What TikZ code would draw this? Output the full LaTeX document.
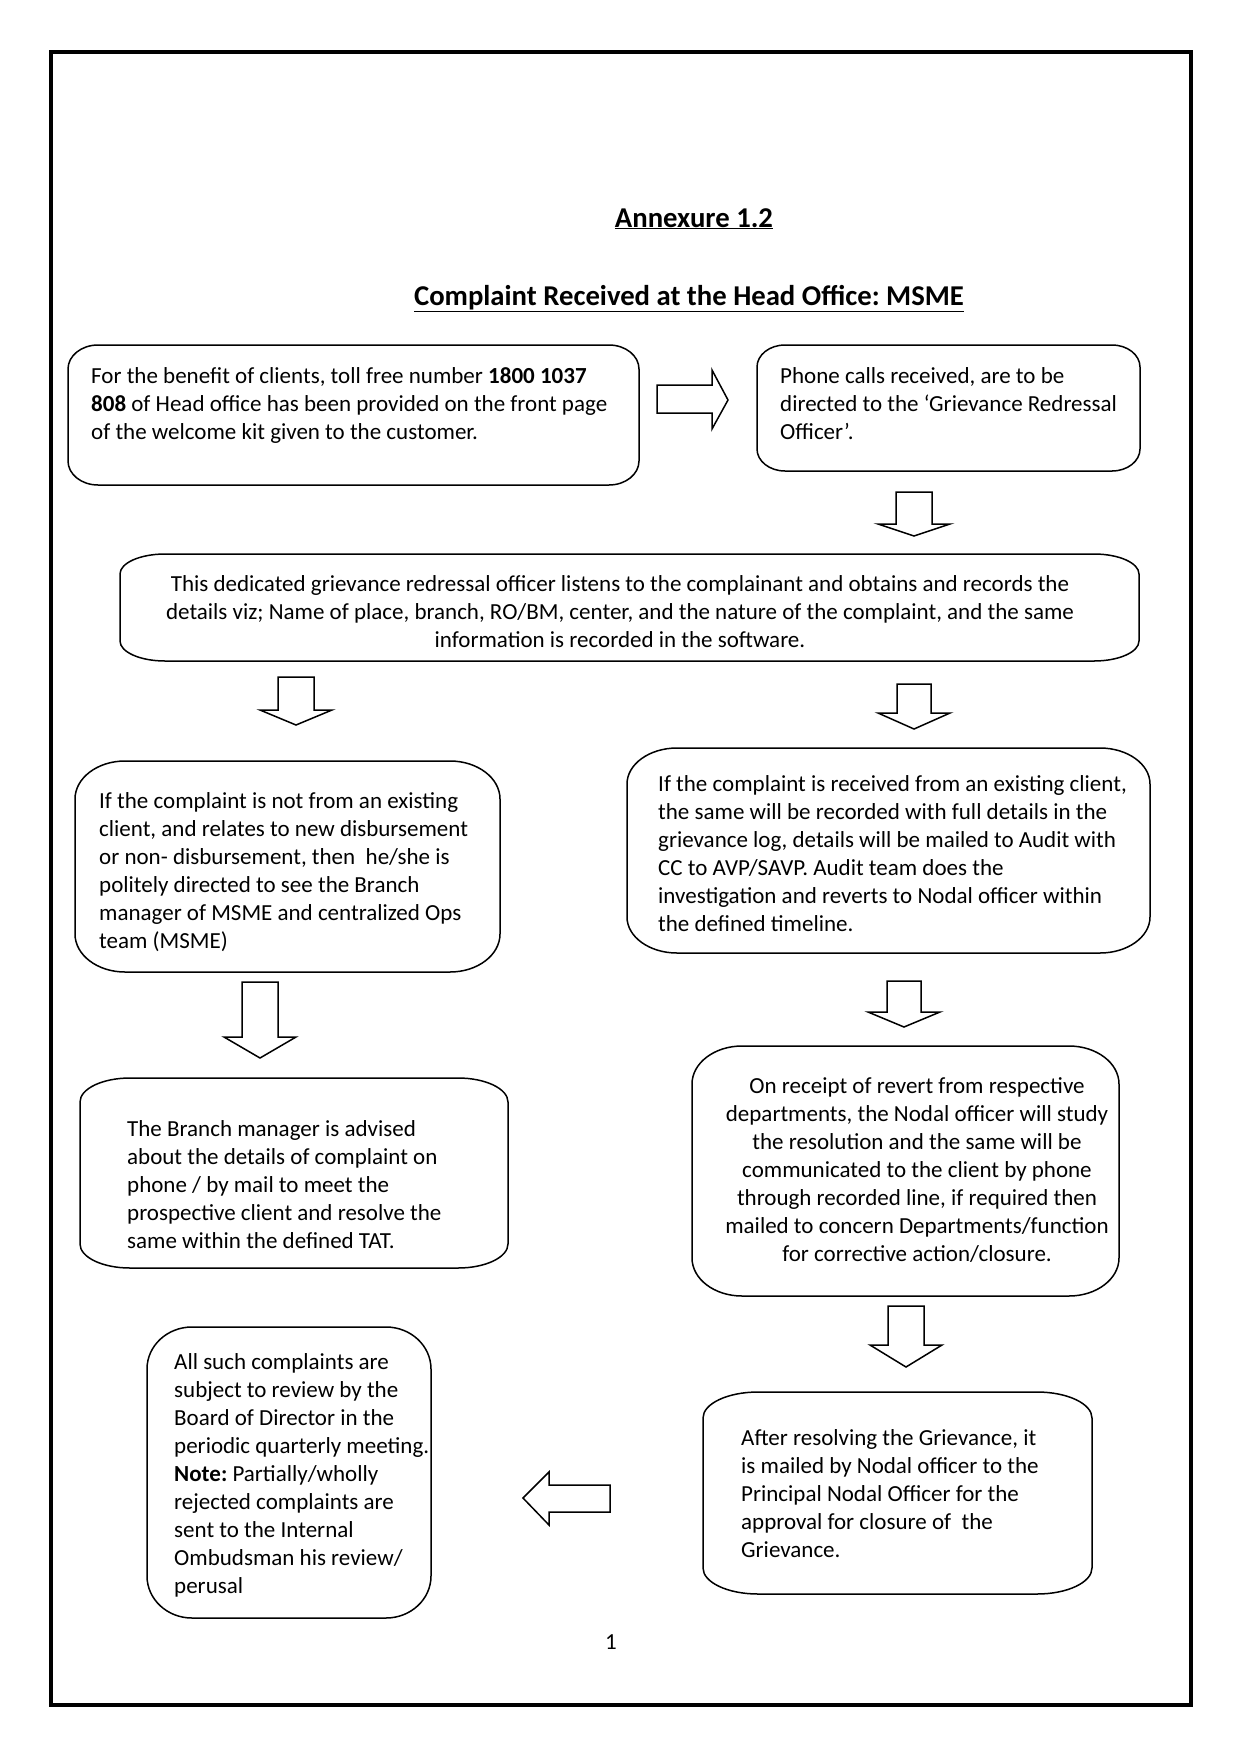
\documentclass[tikz,border=0pt]{standalone}
\usepackage{fontspec}
\setmainfont{Carlito}
\frenchspacing
\tikzset{
  boxline/.style={draw=black, line width=1.5pt, line join=round},
  arrowline/.style={draw=black, line width=1.5pt, line join=miter, fill=white},
  frameline/.style={draw=black, line width=4pt},
  bodytext/.style={inner sep=0pt, font=\fontsize{23}{28}\selectfont},
  titletext/.style={inner sep=0pt, font=\fontsize{28.7}{32}\selectfont\bfseries},
}
% rounded box with elliptical corners: name, x1, y1, x2, y2, rx, ry
\newcommand{\ellbox}[7]{%
  \draw[boxline] (#2+#6,#3) -- (#4-#6,#3)
    .. controls (#4-#6+0.552*#6,#3) and (#4,#3+#7-0.552*#7) .. (#4,#3+#7)
    -- (#4,#5-#7)
    .. controls (#4,#5-#7+0.552*#7) and (#4-#6+0.552*#6,#5) .. (#4-#6,#5)
    -- (#2+#6,#5)
    .. controls (#2+#6-0.552*#6,#5) and (#2,#5-#7+0.552*#7) .. (#2,#5-#7)
    -- (#2,#3+#7)
    .. controls (#2,#3+#7-0.552*#7) and (#2+#6-0.552*#6,#3) .. (#2+#6,#3) -- cycle;
  \coordinate (#1) at ({(#2+#4)/2},{(#3+#5)/2});}
% block arrow pointing down: x centre, top y, neck y, tip y, shaft half width, head half width
\newcommand{\blockdown}[6]{%
  \draw[arrowline] (#1-#5,#2) -- (#1+#5,#2) -- (#1+#5,#3) -- (#1+#6,#3) -- (#1,#4)
    -- (#1-#6,#3) -- (#1-#5,#3) -- cycle;}
\begin{document}
\begin{tikzpicture}[x=1pt,y=-1pt]
\useasboundingbox (0,0) rectangle (1243,1757);
\fill[white] (0,0) rectangle (1243,1757);
% page frame
\draw[frameline] (51,52) rectangle (1191,1705);

% titles
\node[titletext, anchor=base] (annex) at (694,227) {\underline{Annexure 1.2}};
\node[titletext, anchor=base] (title) at (689,305) {\underline{Complaint Received at the Head Office: MSME}};

% boxes
\ellbox{b1}{68}{345}{639}{485}{30}{24}
\ellbox{b2}{757}{345}{1140}{471}{28}{22}
\ellbox{b3}{120}{554}{1139}{661}{45}{20}
\ellbox{b4}{75}{761}{500}{972}{50}{38}
\ellbox{b5}{627}{748}{1150}{953}{50}{36}
\ellbox{b6}{80}{1078}{508}{1268}{50}{24}
\ellbox{b7}{692}{1046}{1119}{1296}{50}{38}
\ellbox{b8}{703}{1392}{1092}{1594}{55}{26}
\ellbox{b9}{147}{1327}{431}{1618}{45}{42}

% texts
\node[bodytext, anchor=north west, align=left] (t1) at (91,{383-19.6}) {\strut For the benefit of clients, toll free number \textbf{1800 1037}\\\textbf{808} of Head office has been provided on the front page\\of the welcome kit given to the customer.};
\node[bodytext, anchor=north west, align=left] (t2) at (780,{383-19.6}) {\strut Phone calls received, are to be\\directed to the ‘Grievance Redressal\\Officer’.};
\node[bodytext, anchor=north, align=center] (t3) at (620,{591-19.6}) {\strut This dedicated grievance redressal officer listens to the complainant and obtains and records the\\details viz; Name of place, branch, RO/BM, center, and the nature of the complaint, and the same\\information is recorded in the software.};
\node[bodytext, anchor=north west, align=left] (t4) at (99,{808-19.6}) {\strut If the complaint is not from an existing\\client, and relates to new disbursement\\or non- disbursement, then\ \ he/she is\\politely directed to see the Branch\\manager of MSME and centralized Ops\\team (MSME)};
\node[bodytext, anchor=north west, align=left] (t5) at (658,{791-19.6}) {\strut If the complaint is received from an existing client,\\the same will be recorded with full details in the\\grievance log, details will be mailed to Audit with\\CC to AVP/SAVP. Audit team does the\\investigation and reverts to Nodal officer within\\the defined timeline.};
\node[bodytext, anchor=north west, align=left] (t6) at (127,{1136-19.6}) {\strut The Branch manager is advised\\about the details of complaint on\\phone / by mail to meet the\\prospective client and resolve the\\same within the defined TAT.};
\node[bodytext, anchor=north, align=center] (t7) at (917,{1093-19.6}) {\strut On receipt of revert from respective\\departments, the Nodal officer will study\\the resolution and the same will be\\communicated to the client by phone\\through recorded line, if required then\\mailed to concern Departments/function\\for corrective action/closure.};
\node[bodytext, anchor=north west, align=left] (t8) at (741,{1445-19.6}) {\strut After resolving the Grievance, it\\is mailed by Nodal officer to the\\Principal Nodal Officer for the\\approval for closure of\ \ the\\Grievance.};
\node[bodytext, anchor=north west, align=left] (t9) at (174,{1369-19.6}) {\strut All such complaints are\\subject to review by the\\Board of Director in the\\periodic quarterly meeting.\\\textbf{Note:} Partially/wholly\\rejected complaints are\\sent to the Internal\\Ombudsman his review/\\perusal};

% block arrows
\draw[arrowline] (657,385) -- (712,385) -- (712,370) -- (728,400) -- (712,429) -- (712,413) -- (657,413) -- cycle;
\blockdown{914}{492}{524}{536}{18}{36}
\blockdown{296}{677}{710}{725}{18}{36}
\blockdown{914}{684}{713}{729}{17}{36}
\blockdown{260}{982}{1037}{1058}{18}{36}
\blockdown{904}{981}{1012}{1027}{17}{36}
\blockdown{906}{1306}{1345}{1367}{18}{36}
\draw[arrowline] (610,1485) -- (549,1485) -- (549,1472) -- (523,1498) -- (549,1525) -- (549,1512) -- (610,1512) -- cycle;

% page number
\node[bodytext, anchor=base] (pnum) at (611,1649) {1};
\end{tikzpicture}
\end{document}
